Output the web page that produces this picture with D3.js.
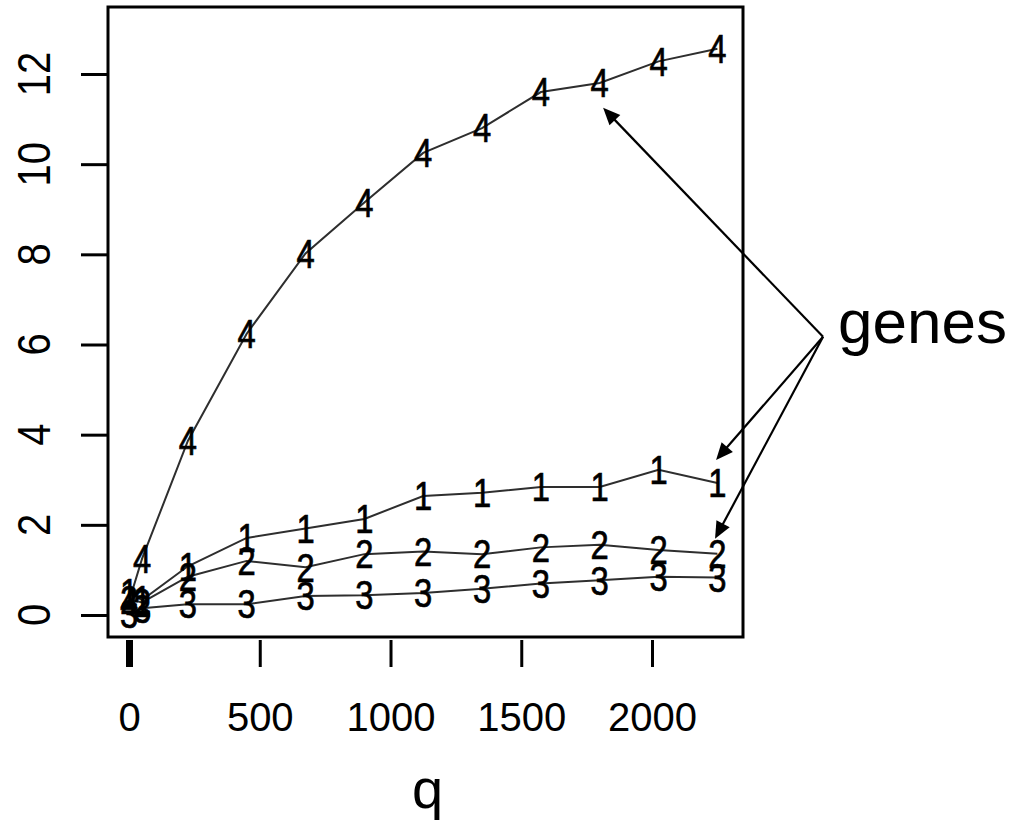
<!DOCTYPE html>
<html>
<head>
<meta charset="utf-8">
<script src="https://cdn.jsdelivr.net/npm/d3@7"></script>
<style>
  html, body { margin: 0; padding: 0; background: #fff; }
  svg { display: block; }
  text { font-family: "Liberation Sans", Arial, Helvetica, sans-serif; fill: #000; }
</style>
</head>
<body>
<svg id="chart" width="1019" height="826"></svg>
<script>
// q values sampled along the x axis
const qValues = [0, 50, 225, 450, 675, 900, 1125, 1350, 1575, 1800, 2025, 2250];

// one series per gene, plotted with its number as the symbol
const gene1 = [0.50, 0.33, 1.08, 1.71, 1.92, 2.13, 2.64, 2.71, 2.84, 2.84, 3.22, 2.93];
const gene2 = [0.35, 0.28, 0.85, 1.20, 1.06, 1.35, 1.41, 1.35, 1.50, 1.56, 1.44, 1.36];
const gene3 = [0.02, 0.15, 0.24, 0.24, 0.42, 0.44, 0.49, 0.58, 0.70, 0.77, 0.85, 0.83];
const gene4 = [0.30, 1.25, 3.86, 6.24, 8.02, 9.15, 10.25, 10.80, 11.60, 11.80, 12.28, 12.56];
const seriesLabels = ["1", "2", "3", "4"];

// axis ticks
const xTicks = [0, 500, 1000, 1500, 2000];
const yTicks = [0, 2, 4, 6, 8, 10, 12];
const xTitle = "q";

// annotation: arrows pointing from the "genes" label to three curves
const annotationText = "genes";
const annotationFrom = [2654, 6.17];
const annotationTargets = [[1813, 11.25], [2245, 3.44], [2241, 1.69]];

const series = [gene1, gene2, gene3, gene4];

const svg = d3.select("#chart");

const x = d3.scaleLinear().domain([0, 2250]).range([129, 717.4]);
const y = d3.scaleLinear().domain([0, 12]).range([615, 74]);

// plot frame
const frame = { left: 108, top: 7, right: 743, bottom: 637 };
svg.append("rect")
  .attr("x", frame.left).attr("y", frame.top)
  .attr("width", frame.right - frame.left).attr("height", frame.bottom - frame.top)
  .attr("fill", "none").attr("stroke", "#000").attr("stroke-width", 3);

// y axis: outward ticks, rotated labels
const yAxis = svg.append("g")
  .attr("transform", `translate(${frame.left},0)`)
  .call(d3.axisLeft(y).tickValues(yTicks).tickSize(27).tickFormat(""));
yAxis.select(".domain").remove();
yAxis.selectAll(".tick line").attr("stroke", "#000").attr("stroke-width", 3);

svg.append("g").selectAll("text")
  .data(yTicks).join("text")
  .attr("transform", d => `translate(50,${y(d)}) rotate(-90) scale(1,1.16)`)
  .attr("text-anchor", "middle")
  .attr("font-size", 40)
  .text(d => d);

// x axis: ticks detached below the frame, no axis line
const xAxis = svg.append("g")
  .attr("transform", "translate(0,640)")
  .call(d3.axisBottom(x).tickValues(xTicks).tickSize(27).tickPadding(0).tickFormat(d3.format("d")));
xAxis.select(".domain").remove();
xAxis.selectAll(".tick line").attr("stroke", "#000").attr("stroke-width", 3);
xAxis.selectAll(".tick").filter(d => d === 0).select("line").attr("stroke-width", 7);
xAxis.selectAll(".tick text")
  .attr("y", 91).attr("dy", 0)
  .attr("font-size", 40)
  .attr("font-family", "Liberation Sans, Arial, sans-serif")
  .attr("fill", "#000");

svg.append("text")
  .attr("x", 427.5).attr("y", 808)
  .attr("text-anchor", "middle")
  .attr("font-size", 56)
  .text(xTitle);

// connecting lines
const line = d3.line().x((d, i) => x(qValues[i])).y(d => y(d));
svg.append("g").selectAll("path")
  .data(series).join("path")
  .attr("d", d => line(d))
  .attr("fill", "none")
  .attr("stroke", "#2e2e2e")
  .attr("stroke-width", 2);

// numbered point symbols
const symbols = svg.append("g");
series.forEach((vals, s) => {
  symbols.selectAll(null)
    .data(vals).join("text")
    .attr("transform", (d, i) => `translate(${x(qValues[i])},${y(d)}) scale(0.82,1)`)
    .attr("y", 14.3)
    .attr("text-anchor", "middle")
    .attr("font-size", 40)
    .attr("stroke", "#000")
    .attr("stroke-width", 0.7)
    .text(seriesLabels[s]);
});

// annotation arrows
const ax0 = x(annotationFrom[0]), ay0 = y(annotationFrom[1]);
const arrows = svg.append("g");
annotationTargets.forEach(t => {
  const tx = x(t[0]), ty = y(t[1]);
  const dx = tx - ax0, dy = ty - ay0;
  const len = Math.hypot(dx, dy);
  const ux = dx / len, uy = dy / len;
  const headLen = 17, headHalf = 7.5;
  const bx = tx - ux * headLen, by = ty - uy * headLen;
  arrows.append("line")
    .attr("x1", ax0).attr("y1", ay0)
    .attr("x2", bx + ux * 2).attr("y2", by + uy * 2)
    .attr("stroke", "#000").attr("stroke-width", 2.2);
  arrows.append("path")
    .attr("d", `M${tx},${ty} L${bx - uy * headHalf},${by + ux * headHalf} L${bx + uy * headHalf},${by - ux * headHalf} Z`)
    .attr("fill", "#000");
});

svg.append("text")
  .attr("x", ax0 + 15).attr("y", ay0 + 6)
  .attr("font-size", 62)
  .text(annotationText);
</script>
</body>
</html>
